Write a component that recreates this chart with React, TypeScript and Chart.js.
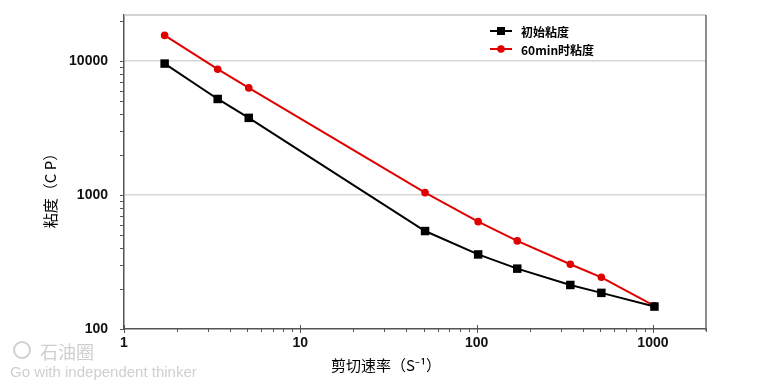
import React, { useEffect, useRef } from "react";
import { Chart, registerables } from "chart.js";

Chart.register(...registerables);

const shearRates = [1.7, 3.4, 5.1, 51, 102, 170, 340, 510, 1020];
const initialViscosity = [9550, 5200, 3760, 538, 360, 282, 213, 186, 147];
const viscosity60min = [15500, 8670, 6290, 1040, 632, 454, 304, 243, 149];
const xMajorTicks = [1, 10, 100, 1000];
const yMajorTicks = [100, 1000, 10000];
const seriesNames = ["初始粘度", "60min时粘度"];
const xTitle = "剪切速率（S⁻¹）";
const yTitle = "粘度（C P）";
const watermark = ["石油圈", "Go with independent thinker"];

const X_MIN = 1;
const X_MAX = 2000;
const Y_MIN = 100;
const Y_MAX = 22000;

const CJK = '"Noto Sans CJK SC", "Noto Sans", sans-serif';
const NUM = '"Liberation Sans", Arial, sans-serif';

const decorPlugin = {
  id: "decor",
  afterDraw(chart: any) {
    const ctx = chart.ctx;
    const area = chart.chartArea;
    const xs = chart.scales.x;
    const ys = chart.scales.y;
    ctx.save();
    // top border
    ctx.strokeStyle = "#c4c4c4";
    ctx.lineWidth = 1.5;
    ctx.beginPath();
    ctx.moveTo(area.left, area.top);
    ctx.lineTo(area.right, area.top);
    ctx.stroke();
    // right border
    ctx.strokeStyle = "#666";
    ctx.lineWidth = 1.5;
    ctx.beginPath();
    ctx.moveTo(area.right, area.top);
    ctx.lineTo(area.right, area.bottom + 2);
    ctx.stroke();

    // y ticks
    ctx.strokeStyle = "#555";
    ctx.lineWidth = 1;
    for (let d = Y_MIN; d <= Y_MAX; d *= 10) {
      for (let m = 1; m <= 9; m++) {
        const v = d * m;
        if (v > Y_MAX) break;
        const py = Math.round(ys.getPixelForValue(v)) + 0.5;
        ctx.beginPath();
        ctx.moveTo(area.left - 4, py);
        ctx.lineTo(area.left, py);
        ctx.stroke();
      }
    }
    // x ticks
    for (let d = X_MIN; d <= X_MAX; d *= 10) {
      for (let m = 1; m <= 9; m++) {
        const v = d * m;
        if (v > X_MAX) break;
        const px = Math.round(xs.getPixelForValue(v)) + 0.5;
        ctx.beginPath();
        if (m === 1) {
          ctx.moveTo(px, area.bottom - 4);
          ctx.lineTo(px, area.bottom + 4);
        } else {
          ctx.moveTo(px, area.bottom);
          ctx.lineTo(px, area.bottom + 3);
        }
        ctx.stroke();
      }
    }
    const pxEnd = Math.round(xs.getPixelForValue(X_MAX)) + 0.5;
    ctx.beginPath();
    ctx.moveTo(pxEnd, area.bottom);
    ctx.lineTo(pxEnd, area.bottom + 3);
    ctx.stroke();

    // legend
    const lx0 = 490;
    const lx1 = 512;
    const lm = 501;
    const ly = [31, 49];
    const colors = ["#000000", "#e00000"];
    for (let i = 0; i < 2; i++) {
      ctx.strokeStyle = colors[i];
      ctx.fillStyle = colors[i];
      ctx.lineWidth = 2;
      ctx.beginPath();
      ctx.moveTo(lx0, ly[i]);
      ctx.lineTo(lx1, ly[i]);
      ctx.stroke();
      if (i === 0) {
        ctx.fillRect(lm - 4, ly[i] - 4, 8, 8);
      } else {
        ctx.beginPath();
        ctx.arc(lm, ly[i], 3.8, 0, Math.PI * 2);
        ctx.fill();
      }
      ctx.fillStyle = "#000";
      ctx.font = `bold 12px ${CJK}`;
      ctx.textAlign = "left";
      ctx.textBaseline = "middle";
      ctx.fillText(seriesNames[i], 521, ly[i] + 1);
    }

    // axis titles
    ctx.fillStyle = "#000";
    ctx.font = `15px ${CJK}`;
    ctx.textAlign = "center";
    ctx.textBaseline = "middle";
    ctx.fillText(xTitle, 386, 365);
    ctx.save();
    ctx.translate(50, 187);
    ctx.rotate(-Math.PI / 2);
    ctx.fillText(yTitle, 0, 0);
    ctx.restore();

    // watermark
    ctx.strokeStyle = "#d0d0d0";
    ctx.lineWidth = 2;
    ctx.beginPath();
    ctx.arc(22, 350, 8, 0, Math.PI * 2);
    ctx.stroke();
    ctx.fillStyle = "#cfcfcf";
    ctx.font = `18px ${CJK}`;
    ctx.textAlign = "left";
    ctx.fillText(watermark[0], 40, 352);
    ctx.font = `15px ${NUM}`;
    ctx.fillText(watermark[1], 10, 373);
    ctx.restore();
  },
};

export default function App() {
  const canvasRef = useRef<HTMLCanvasElement | null>(null);

  useEffect(() => {
    const canvas = canvasRef.current;
    if (!canvas) return;
    const chart = new Chart(canvas, {
      type: "line",
      data: {
        datasets: [
          {
            label: seriesNames[0],
            data: shearRates.map((x, i) => ({ x, y: initialViscosity[i] })),
            borderColor: "#000000",
            backgroundColor: "#000000",
            pointBackgroundColor: "#000000",
            pointBorderColor: "#000000",
            pointStyle: "rect",
            pointRadius: 6,
            pointBorderWidth: 0,
            borderWidth: 2,
            tension: 0,
          },
          {
            label: seriesNames[1],
            data: shearRates.map((x, i) => ({ x, y: viscosity60min[i] })),
            borderColor: "#e00000",
            backgroundColor: "#e00000",
            pointBackgroundColor: "#e00000",
            pointBorderColor: "#e00000",
            pointStyle: "circle",
            pointRadius: 3.8,
            pointBorderWidth: 0,
            borderWidth: 2,
            tension: 0,
          },
        ],
      },
      options: {
        animation: false,
        responsive: false,
        devicePixelRatio: 1,
        layout: { padding: { top: 15, right: 69, left: 0, bottom: 0 } },
        plugins: { legend: { display: false }, tooltip: { enabled: false } },
        scales: {
          x: {
            type: "logarithmic",
            min: X_MIN,
            max: X_MAX,
            afterFit: (s: any) => {
              s.height = 388 - 329;
              s.paddingLeft = 0;
              s.paddingRight = 0;
            },
            afterBuildTicks: (s: any) => {
              s.ticks = xMajorTicks.map((v) => ({ value: v }));
            },
            ticks: {
              callback: (v: any) => String(v),
              color: "#111",
              font: { family: NUM, size: 14, weight: "bold" },
              padding: 6,
              maxRotation: 0,
              autoSkip: false,
            },
            grid: { display: false, drawTicks: false },
            border: { color: "#555", width: 1.5 },
          },
          y: {
            type: "logarithmic",
            min: Y_MIN,
            max: Y_MAX,
            afterFit: (s: any) => {
              s.width = 124;
              s.paddingTop = 0;
              s.paddingBottom = 0;
            },
            afterBuildTicks: (s: any) => {
              s.ticks = yMajorTicks.map((v) => ({ value: v }));
            },
            ticks: {
              callback: (v: any) => String(v),
              color: "#111",
              font: { family: NUM, size: 14, weight: "bold" },
              padding: 16,
              autoSkip: false,
            },
            grid: {
              drawTicks: false,
              color: (c: any) =>
                c.tick && c.tick.value === Y_MIN ? "rgba(0,0,0,0)" : "#d6d6d6",
              lineWidth: 1.5,
            },
            border: { color: "#555", width: 1.5 },
          },
        },
      },
      plugins: [decorPlugin],
    } as any);
    return () => chart.destroy();
  }, []);

  return (
    <div style={{ position: "absolute", left: 0, top: 0, width: 775, height: 388, background: "#fff" }}>
      <canvas ref={canvasRef} width={775} height={388} style={{ display: "block" }} />
    </div>
  );
}
